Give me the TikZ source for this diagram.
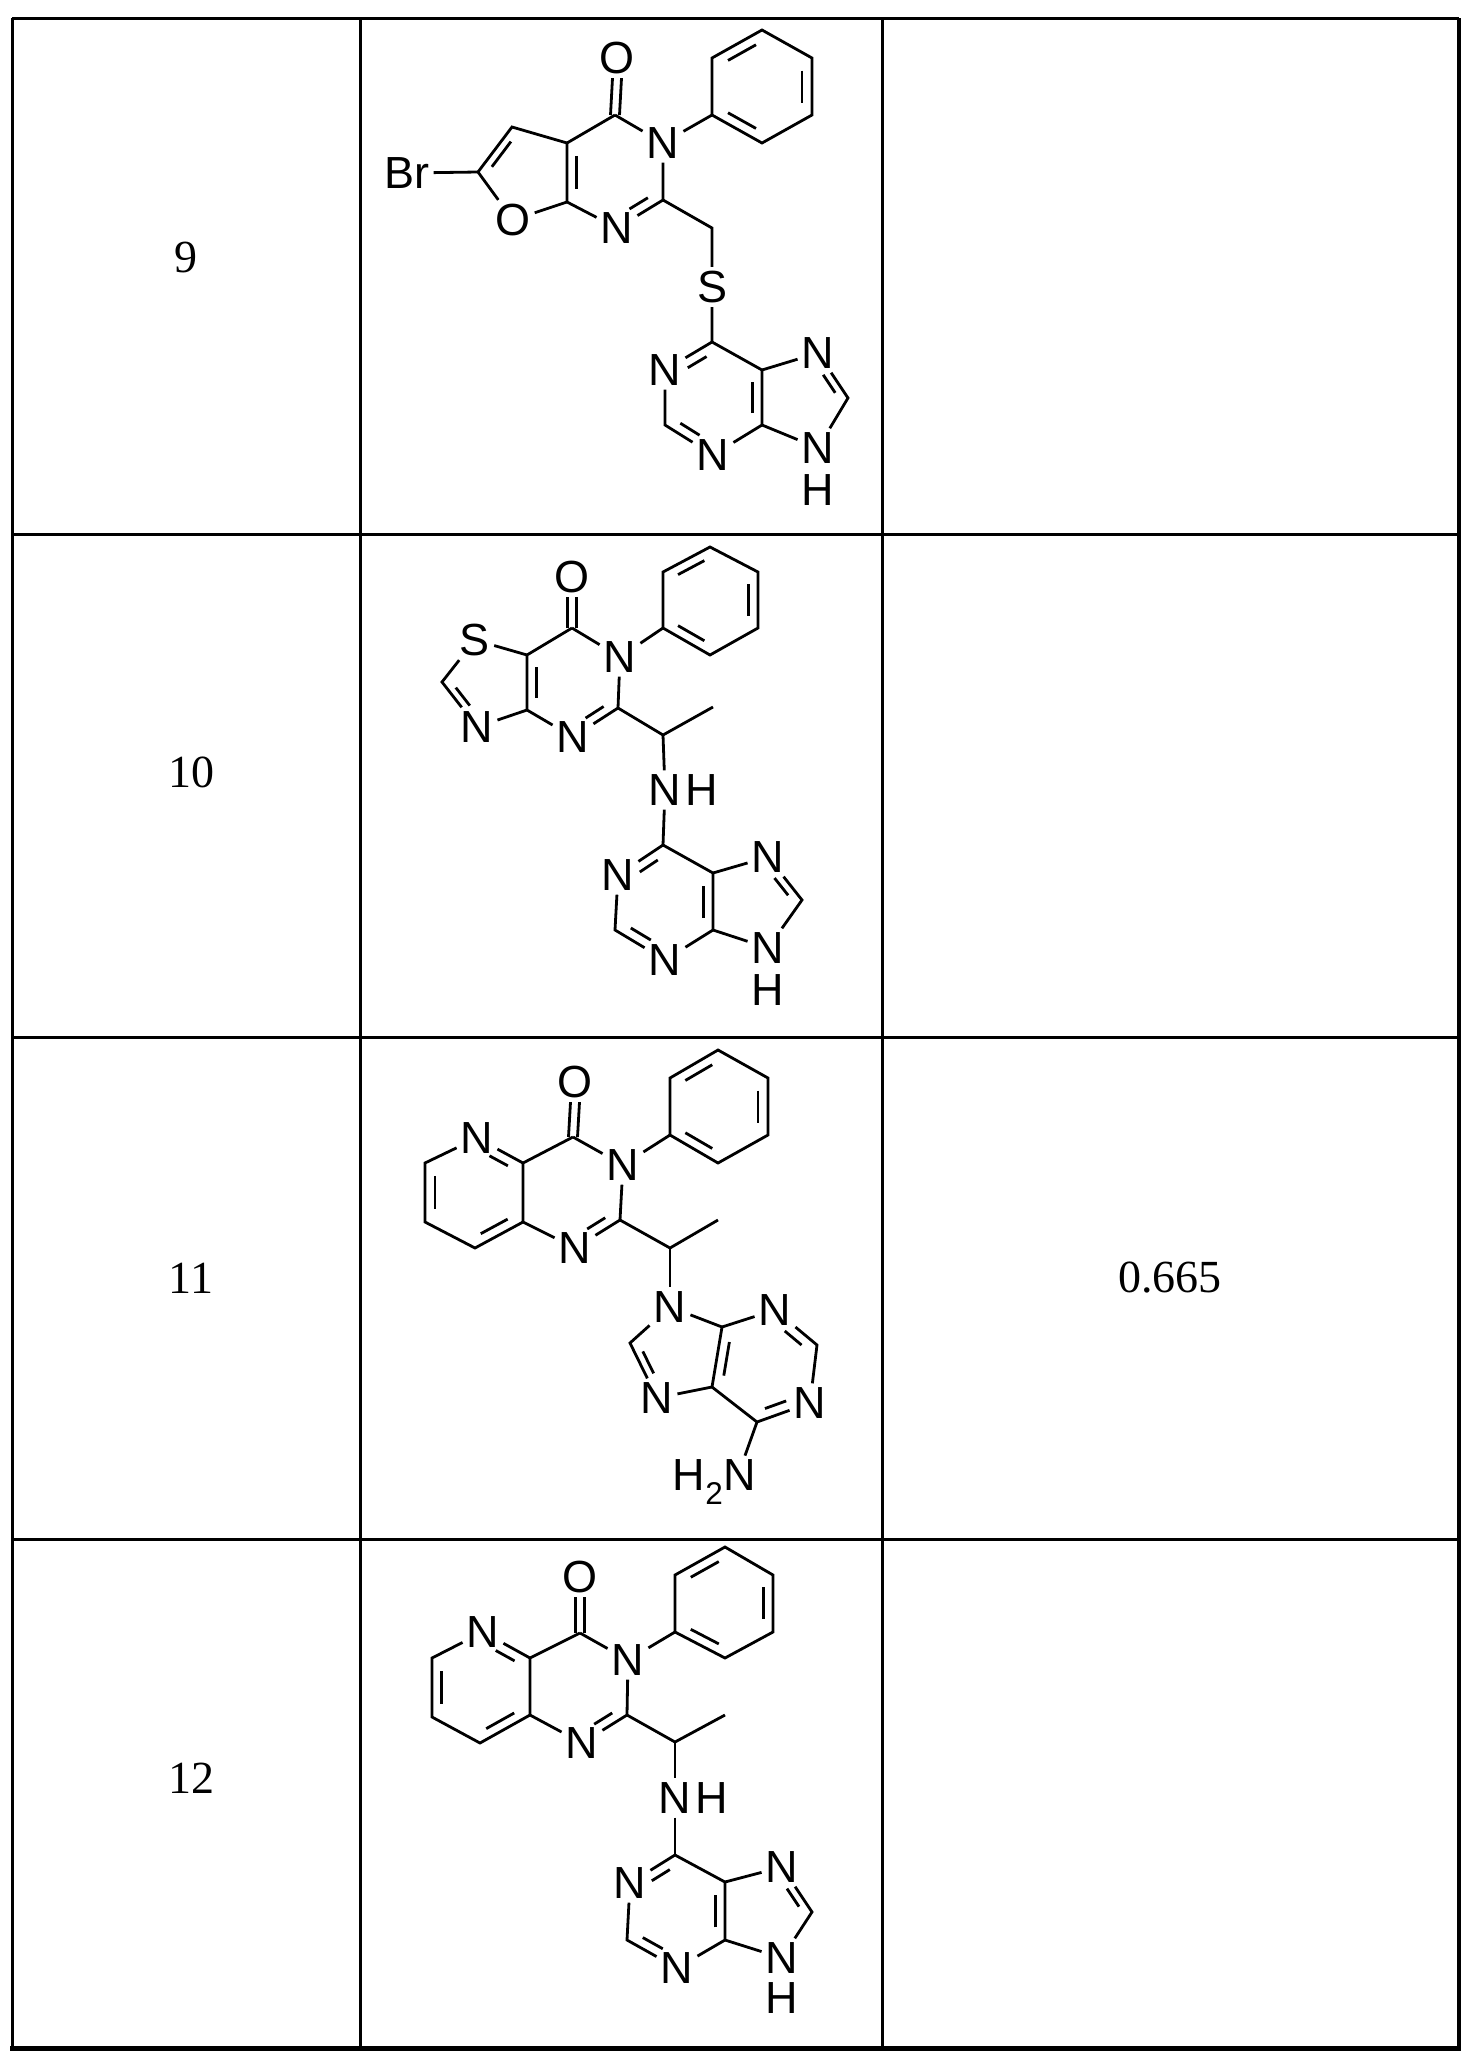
\documentclass[tikz,border=0pt]{standalone}
\usepackage{fontspec}
\setmainfont{Liberation Sans}
\newfontfamily\serf{Liberation Serif}
\usetikzlibrary{calc}
\newcommand\lab{\fontsize{45}{48}\selectfont}
\newcommand\numf{\serf\fontsize{46}{50}\selectfont}
\tikzset{atm/.style={inner sep=4pt,font=\lab},bd/.style={line width=2.8pt},
 tl/.style={line width=3pt},num/.style={font=\numf}}
\newcommand\ibx[5]{\draw[bd] ($($(#1)!#4!(#2)$)!0.2!(#3)$) -- ($($(#2)!#5!(#1)$)!0.2!(#3)$);}
\newcommand\co[2]{\draw[bd] ([xshift=-4.5pt]#1) -- ([xshift=-4.5pt]#2.south);\draw[bd] ([xshift=4.5pt]#1) -- ([xshift=4.5pt]#2.south);}
\begin{document}
\begin{tikzpicture}[x=1pt,y=-1pt]
\useasboundingbox (0,0) rectangle (1471,2067);
\fill[white] (0,0) rectangle (1471,2067);
% table
\draw[tl] (12,18) -- (1459,18);
\draw[tl] (12,534) -- (1459,534);
\draw[tl] (12,1037) -- (1459,1037);
\draw[tl] (12,1539) -- (1459,1539);
\draw[line width=5pt] (10,2048) -- (1461,2048);
\draw[tl] (12,18) -- (12,2048);
\draw[tl] (360,18) -- (360,2048);
\draw[tl] (882,18) -- (882,2048);
\draw[line width=4pt] (1459,18) -- (1459,2050);
\node[num] (r9) at (186,257) {9};
\node[num] (r10) at (191,772) {10};
\node[num] (r11) at (191,1278) {11};
\node[num] (r12) at (191,1778) {12};
\node[num] (v11) at (1170,1278) {0.665};
% ===== molecule 9 =====
\node[atm] (ao) at (617,58) {O};
\coordinate (ac4) at (615,115);
\node[atm] (an3) at (663,143) {N};
\coordinate (ac2) at (663,200);
\node[atm] (an1) at (617,228) {N};
\coordinate (ac7a) at (567,202);
\coordinate (ac3a) at (567,143);
\coordinate (ac3) at (512,127);
\coordinate (ac2f) at (478,172);
\node[atm] (aof) at (513,220) {O};
\node[atm] (abr) at (407,173) {Br};
\coordinate (apc) at (615,172);
\coordinate (afc) at (527,173);
\draw[bd] (ac4) -- (an3) -- (ac2) -- (an1) -- (ac7a) -- (ac3a) -- (ac4);
\draw[bd] (ac3a) -- (ac3) -- (ac2f) -- (aof) -- (ac7a);
\draw[bd] (ac2f) -- (abr);
\ibx{ac3}{ac2f}{afc}{0.15}{0.15}
\ibx{ac3a}{ac7a}{apc}{0.15}{0.15}
\ibx{ac2}{an1}{apc}{0.15}{0.35}
\co{ac4}{ao}
\coordinate (ap1) at (712,115);\coordinate (ap2) at (712,58);\coordinate (ap3) at (762,30);
\coordinate (ap4) at (812,58);\coordinate (ap5) at (812,115);\coordinate (ap6) at (762,143);
\coordinate (aphc) at (762,87);
\draw[bd] (ap1) -- (ap2) -- (ap3) -- (ap4) -- (ap5) -- (ap6) -- cycle;
\draw[bd] (an3) -- (ap1);
\ibx{ap2}{ap3}{aphc}{0.15}{0.15}\ibx{ap4}{ap5}{aphc}{0.15}{0.15}\ibx{ap6}{ap1}{aphc}{0.15}{0.15}
\coordinate (ach2) at (712,228);
\node[atm] (as) at (712,287) {S};
\coordinate (aq6) at (712,342);
\node[atm] (aq1) at (665,370) {N};
\coordinate (aq2) at (665,425);
\node[atm] (aq3) at (713,455) {N};
\coordinate (aq4) at (762,425);
\coordinate (aq5) at (762,370);
\node[atm] (aq7) at (818,353) {N};
\coordinate (aq8) at (848,398);
\node[atm] (aq9) at (818,448) {N};
\node[atm] (ah9) at (818,490) {H};
\coordinate (aqc) at (713,398);\coordinate (aic) at (802,399);
\draw[bd] (ac2) -- (ach2) -- (as) -- (aq6);
\draw[bd] (aq6) -- (aq1) -- (aq2) -- (aq3) -- (aq4) -- (aq5) -- (aq6);
\draw[bd] (aq5) -- (aq7) -- (aq8) -- (aq9) -- (aq4);
\ibx{aq6}{aq1}{aqc}{0.15}{0.35}\ibx{aq2}{aq3}{aqc}{0.15}{0.35}
\ibx{aq4}{aq5}{aqc}{0.15}{0.15}\ibx{aq7}{aq8}{aic}{0.35}{0.15}
% ===== molecule 10 =====
\node[atm] (bo) at (572,577) {O};
\coordinate (bc7) at (572,628);
\node[atm] (bn6) at (620,657) {N};
\coordinate (bc5) at (618,708);
\node[atm] (bn4) at (573,737) {N};
\coordinate (bc3a) at (527,710);
\coordinate (bc7a) at (527,655);
\node[atm] (bs) at (475,640) {S};
\coordinate (bc2) at (442,682);
\node[atm] (bn3) at (477,727) {N};
\coordinate (bpc) at (573,683);\coordinate (btc) at (490,683);
\draw[bd] (bc7) -- (bn6) -- (bc5) -- (bn4) -- (bc3a) -- (bc7a) -- (bc7);
\draw[bd] (bc7a) -- (bs) -- (bc2) -- (bn3) -- (bc3a);
\ibx{bc2}{bn3}{btc}{0.15}{0.35}
\ibx{bc7a}{bc3a}{bpc}{0.15}{0.15}
\ibx{bc5}{bn4}{bpc}{0.15}{0.35}
\co{bc7}{bo}
\coordinate (bp1) at (663,628);\coordinate (bp2) at (663,572);\coordinate (bp3) at (710,547);
\coordinate (bp4) at (758,572);\coordinate (bp5) at (758,628);\coordinate (bp6) at (710,655);
\coordinate (bphc) at (710,600);
\draw[bd] (bp1) -- (bp2) -- (bp3) -- (bp4) -- (bp5) -- (bp6) -- cycle;
\draw[bd] (bn6) -- (bp1);
\ibx{bp2}{bp3}{bphc}{0.15}{0.15}\ibx{bp4}{bp5}{bphc}{0.15}{0.15}\ibx{bp6}{bp1}{bphc}{0.15}{0.15}
\coordinate (bch) at (663,735);\coordinate (bme) at (713,707);
\node[atm] (bnh) at (665,790) {N};
\node[atm,anchor=west,inner xsep=0pt] (bhh) at (bnh.east) {H};
\draw[bd] (bc5) -- (bch) -- (bme);
\draw[bd] (bch) -- (bnh);
\coordinate (bq6) at (663,845);
\node[atm] (bq1) at (618,875) {N};
\coordinate (bq2) at (615,930);
\node[atm] (bq3) at (665,960) {N};
\coordinate (bq4) at (713,930);
\coordinate (bq5) at (713,873);
\node[atm] (bq7) at (768,857) {N};
\coordinate (bq8) at (802,900);
\node[atm] (bq9) at (768,948) {N};
\node[atm] (bh9) at (768,990) {H};
\coordinate (bqc) at (664,902);\coordinate (bic) at (753,902);
\draw[bd] (bnh) -- (bq6);
\draw[bd] (bq6) -- (bq1) -- (bq2) -- (bq3) -- (bq4) -- (bq5) -- (bq6);
\draw[bd] (bq5) -- (bq7) -- (bq8) -- (bq9) -- (bq4);
\ibx{bq6}{bq1}{bqc}{0.15}{0.35}\ibx{bq2}{bq3}{bqc}{0.15}{0.35}
\ibx{bq4}{bq5}{bqc}{0.15}{0.15}\ibx{bq7}{bq8}{bic}{0.35}{0.15}
% ===== molecule 11 =====
\node[atm] (co) at (575,1082) {O};
\coordinate (cc4) at (573,1137);
\node[atm] (cn3) at (623,1165) {N};
\coordinate (cc2) at (620,1220);
\node[atm] (cn1) at (575,1248) {N};
\coordinate (cc8a) at (523,1222);
\coordinate (cc4a) at (523,1163);
\node[atm] (cn5) at (477,1138) {N};
\coordinate (cc6) at (425,1163);
\coordinate (cc7) at (425,1222);
\coordinate (cc8) at (475,1248);
\coordinate (cpc) at (573,1192);\coordinate (cyc) at (475,1192);
\draw[bd] (cc4) -- (cn3) -- (cc2) -- (cn1) -- (cc8a) -- (cc4a) -- (cc4);
\draw[bd] (cc4a) -- (cn5) -- (cc6) -- (cc7) -- (cc8) -- (cc8a);
\ibx{cn5}{cc4a}{cyc}{0.35}{0.15}\ibx{cc6}{cc7}{cyc}{0.15}{0.15}\ibx{cc8}{cc8a}{cyc}{0.15}{0.15}
\ibx{cc2}{cn1}{cpc}{0.15}{0.35}
\co{cc4}{co}
\coordinate (cp1) at (670,1135);\coordinate (cp2) at (670,1078);\coordinate (cp3) at (718,1050);
\coordinate (cp4) at (768,1078);\coordinate (cp5) at (768,1135);\coordinate (cp6) at (718,1163);
\coordinate (cphc) at (718,1107);
\draw[bd] (cp1) -- (cp2) -- (cp3) -- (cp4) -- (cp5) -- (cp6) -- cycle;
\draw[bd] (cn3) -- (cp1);
\ibx{cp2}{cp3}{cphc}{0.15}{0.15}\ibx{cp4}{cp5}{cphc}{0.15}{0.15}\ibx{cp6}{cp1}{cphc}{0.15}{0.15}
\coordinate (cch) at (670,1248);\coordinate (cme) at (718,1220);
\draw[bd] (cc2) -- (cch) -- (cme);
\node[atm] (cq9) at (670,1307) {N};
\coordinate (cq8) at (630,1343);
\node[atm] (cq7) at (657,1398) {N};
\coordinate (cq5) at (712,1387);
\coordinate (cq4) at (722,1327);
\node[atm] (cq3) at (775,1310) {N};
\coordinate (cq2) at (817,1345);
\node[atm] (cq1) at (810,1403) {N};
\coordinate (cq6) at (757,1422);
\node[atm,anchor=east] (cnn) at (760,1482) {H\textsubscript{2}N};
\coordinate (cic) at (678,1352);\coordinate (cqc) at (765,1366);
\draw[bd] (cch) -- (cq9);
\draw[bd] (cq9) -- (cq8) -- (cq7) -- (cq5) -- (cq4) -- (cq9);
\draw[bd] (cq4) -- (cq3) -- (cq2) -- (cq1) -- (cq6) -- (cq5);
\draw[bd] (cq6) -- ([xshift=-15pt]cnn.north east);
\ibx{cq8}{cq7}{cic}{0.15}{0.35}\ibx{cq4}{cq5}{cqc}{0.15}{0.15}
\ibx{cq3}{cq2}{cqc}{0.35}{0.15}\ibx{cq6}{cq1}{cqc}{0.15}{0.35}
% ===== molecule 12 =====
\node[atm] (do) at (580,1577) {O};
\coordinate (dc4) at (580,1633);
\node[atm] (dn3) at (628,1660) {N};
\coordinate (dc2) at (627,1715);
\node[atm] (dn1) at (582,1743) {N};
\coordinate (dc8a) at (530,1715);
\coordinate (dc4a) at (530,1658);
\node[atm] (dn5) at (483,1632) {N};
\coordinate (dc6) at (432,1658);
\coordinate (dc7) at (432,1717);
\coordinate (dc8) at (480,1743);
\coordinate (dpc) at (580,1688);\coordinate (dyc) at (481,1688);
\draw[bd] (dc4) -- (dn3) -- (dc2) -- (dn1) -- (dc8a) -- (dc4a) -- (dc4);
\draw[bd] (dc4a) -- (dn5) -- (dc6) -- (dc7) -- (dc8) -- (dc8a);
\ibx{dn5}{dc4a}{dyc}{0.35}{0.15}\ibx{dc6}{dc7}{dyc}{0.15}{0.15}\ibx{dc8}{dc8a}{dyc}{0.15}{0.15}
\ibx{dc2}{dn1}{dpc}{0.15}{0.35}
\co{dc4}{do}
\coordinate (dp1) at (675,1632);\coordinate (dp2) at (675,1575);\coordinate (dp3) at (725,1547);
\coordinate (dp4) at (773,1575);\coordinate (dp5) at (773,1632);\coordinate (dp6) at (725,1658);
\coordinate (dphc) at (724,1603);
\draw[bd] (dp1) -- (dp2) -- (dp3) -- (dp4) -- (dp5) -- (dp6) -- cycle;
\draw[bd] (dn3) -- (dp1);
\ibx{dp2}{dp3}{dphc}{0.15}{0.15}\ibx{dp4}{dp5}{dphc}{0.15}{0.15}\ibx{dp6}{dp1}{dphc}{0.15}{0.15}
\coordinate (dch) at (675,1742);\coordinate (dme) at (725,1715);
\node[atm] (dnh) at (675,1798) {N};
\node[atm,anchor=west,inner xsep=0pt] (dhh) at (dnh.east) {H};
\draw[bd] (dc2) -- (dch) -- (dme);
\draw[bd] (dch) -- (dnh);
\coordinate (dq6) at (675,1855);
\node[atm] (dq1) at (630,1883) {N};
\coordinate (dq2) at (627,1940);
\node[atm] (dq3) at (677,1968) {N};
\coordinate (dq4) at (725,1940);
\coordinate (dq5) at (725,1882);
\node[atm] (dq7) at (782,1867) {N};
\coordinate (dq8) at (812,1912);
\node[atm] (dq9) at (782,1958) {N};
\node[atm] (dh9) at (782,1998) {H};
\coordinate (dqc) at (676,1911);\coordinate (dic) at (765,1912);
\draw[bd] (dnh) -- (dq6);
\draw[bd] (dq6) -- (dq1) -- (dq2) -- (dq3) -- (dq4) -- (dq5) -- (dq6);
\draw[bd] (dq5) -- (dq7) -- (dq8) -- (dq9) -- (dq4);
\ibx{dq6}{dq1}{dqc}{0.15}{0.35}\ibx{dq2}{dq3}{dqc}{0.15}{0.35}
\ibx{dq4}{dq5}{dqc}{0.15}{0.15}\ibx{dq7}{dq8}{dic}{0.35}{0.15}
\end{tikzpicture}
\end{document}
